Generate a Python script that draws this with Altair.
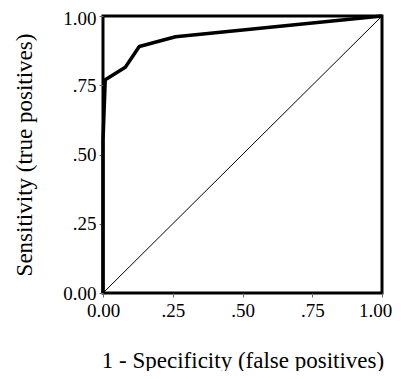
import altair as alt
import pandas as pd

fpr = [0.0, 0.0, 0.008, 0.08, 0.13, 0.26, 1.0]
tpr = [0.0, 0.55, 0.77, 0.815, 0.89, 0.925, 1.0]
diag_x = [0.0, 1.0]
diag_y = [0.0, 1.0]
ticks = [0, 0.25, 0.5, 0.75, 1.0]

roc = pd.DataFrame({"x": fpr, "y": tpr, "o": list(range(len(fpr)))})
diag = pd.DataFrame({"x": diag_x, "y": diag_y})

lab = "datum.value == 0 || datum.value == 1 ? format(datum.value, '.2f') : replace(format(datum.value, '.2f'), '0.', '.')"
FONT = "Liberation Serif"

xax = alt.X("x:Q", scale=alt.Scale(domain=[0, 1], nice=False),
            axis=alt.Axis(values=ticks, labelExpr=lab, title="1 - Specificity (false positives)",
                          domain=False, grid=False, tickSize=4, tickColor="#666",
                          labelFlush=False, labelOverlap=False,
                          labelOffset={"condition": {"test": "datum.value == 1", "value": -7}, "value": 0},
                          labelFont=FONT, labelFontSize=19, labelColor="black", labelPadding=4,
                          titleFont=FONT, titleFontSize=23, titleFontWeight="normal", titleColor="black",
                          titleY=67, titleBaseline="middle"))
yax = alt.Y("y:Q", scale=alt.Scale(domain=[0, 1], nice=False),
            axis=alt.Axis(values=ticks, labelExpr=lab, title="Sensitivity (true positives)",
                          domain=False, grid=False, tickSize=4, tickColor="#666",
                          labelFlush=False, labelOverlap=False,
                          labelOffset={"condition": {"test": "datum.value == 1", "value": 2}, "value": 0},
                          labelFont=FONT, labelFontSize=19, labelColor="black", labelPadding=3,
                          titleFont=FONT, titleFontSize=23, titleFontWeight="normal", titleColor="black",
                          titleX=-79, titleBaseline="middle"))

d = alt.Chart(diag).mark_line(color="black", strokeWidth=1).encode(x=xax, y=yax)
r = alt.Chart(roc).mark_line(color="black", strokeWidth=3.5, strokeJoin="round").encode(
    x="x:Q", y="y:Q", order="o:Q")

chart = (d + r).properties(
    width=279, height=277, autosize="none",
    padding={"left": 95, "top": 8, "right": 11, "bottom": 78}
).configure_view(stroke="black", strokeWidth=3)

chart.save("out.html", embed_options={"renderer": "svg", "actions": False})
